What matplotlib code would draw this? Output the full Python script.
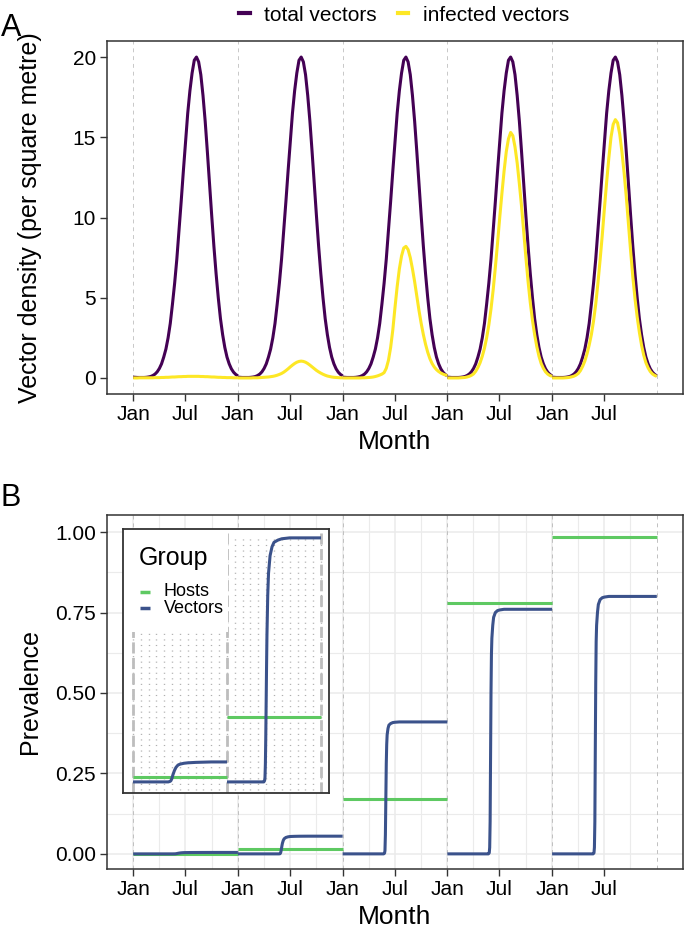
import numpy as np
import matplotlib
matplotlib.use('Agg')
import matplotlib.pyplot as plt
from matplotlib.lines import Line2D
from matplotlib.patches import Rectangle

plt.rcParams['font.family'] = ['Liberation Sans', 'DejaVu Sans']

# ---- data ----
# panel A: vector density per square metre, one value every quarter month
months = np.linspace(0, 12, 49)

total_vectors = [0.05, 0.04, 0.03, 0.03, 0.03, 0.03, 0.04, 0.06, 0.09, 0.15,
                 0.24, 0.38, 0.59, 0.88, 1.30, 1.80, 2.50, 3.40, 4.60, 5.90,
                 7.40, 9.20, 11.0, 12.9, 14.7, 16.5, 17.9, 19.0, 19.8, 20.0,
                 19.7, 18.9, 17.6, 16.0, 14.1, 12.1, 10.1, 8.20, 6.50, 5.00,
                 3.70, 2.70, 1.90, 1.30, 0.88, 0.57, 0.36, 0.22, 0.13]

infected_y1 = [0.00, 0.00, 0.00, 0.01, 0.01, 0.01, 0.01, 0.01, 0.01, 0.01,
               0.02, 0.02, 0.02, 0.03, 0.03, 0.04, 0.04, 0.05, 0.06, 0.06,
               0.07, 0.08, 0.08, 0.09, 0.09, 0.10, 0.10, 0.10, 0.10, 0.10,
               0.10, 0.09, 0.09, 0.08, 0.08, 0.07, 0.06, 0.06, 0.05, 0.04,
               0.04, 0.03, 0.03, 0.02, 0.02, 0.02, 0.01, 0.01, 0.01]

infected_y2 = [0.00, 0.00, 0.00, 0.00, 0.00, 0.00, 0.00, 0.01, 0.01, 0.01,
               0.02, 0.03, 0.04, 0.05, 0.06, 0.08, 0.10, 0.13, 0.17, 0.22,
               0.28, 0.36, 0.46, 0.57, 0.69, 0.80, 0.90, 0.98, 1.03, 1.05,
               1.03, 0.98, 0.90, 0.80, 0.69, 0.58, 0.47, 0.38, 0.30, 0.23,
               0.17, 0.12, 0.09, 0.06, 0.04, 0.03, 0.02, 0.01, 0.01]

infected_y3 = [0.00, 0.00, 0.00, 0.00, 0.00, 0.00, 0.00, 0.00, 0.00, 0.01,
               0.01, 0.02, 0.03, 0.04, 0.06, 0.09, 0.13, 0.18, 0.24, 0.33,
               0.60, 1.10, 1.90, 3.00, 4.40, 5.70, 6.80, 7.60, 8.10, 8.20,
               8.00, 7.50, 6.80, 6.00, 5.10, 4.20, 3.40, 2.70, 2.10, 1.60,
               1.20, 0.90, 0.68, 0.52, 0.40, 0.31, 0.24, 0.19, 0.15]

infected_y4 = [0.00, 0.00, 0.00, 0.00, 0.00, 0.00, 0.01, 0.02, 0.03, 0.06,
               0.10, 0.16, 0.25, 0.42, 0.65, 0.95, 1.35, 1.85, 2.50, 3.30,
               4.30, 5.50, 6.90, 8.40, 10.0, 11.5, 12.9, 14.1, 14.9, 15.3,
               15.1, 14.4, 13.4, 12.1, 10.7, 9.10, 7.50, 6.00, 4.70, 3.60,
               2.70, 1.95, 1.35, 0.90, 0.60, 0.38, 0.24, 0.15, 0.10]

infected_y5 = [0.00, 0.00, 0.00, 0.00, 0.00, 0.00, 0.01, 0.02, 0.04, 0.07,
               0.11, 0.18, 0.28, 0.46, 0.72, 1.05, 1.50, 2.05, 2.70, 3.55,
               4.60, 5.90, 7.35, 8.90, 10.6, 12.2, 13.7, 15.0, 15.8, 16.1,
               15.9, 15.2, 14.1, 12.8, 11.3, 9.60, 7.90, 6.30, 4.95, 3.80,
               2.85, 2.05, 1.42, 0.95, 0.63, 0.40, 0.25, 0.16, 0.10]

infected = [infected_y1, infected_y2, infected_y3, infected_y4, infected_y5]

# panel B: prevalence; vectors sampled more densely around the jump
b_months = [0, 4.5, 4.7, 4.8, 4.85, 4.9, 4.95, 5.0, 5.05, 5.1,
            5.2, 5.3, 5.5, 5.75, 6.0, 6.5, 7.0, 8.0, 10.0, 12.0]

vectors_y1 = [0, 0, 0.0001, 0.0002, 0.0003, 0.0005, 0.0007, 0.0010, 0.0013, 0.0016,
              0.0021, 0.0026, 0.0033, 0.0038, 0.0040, 0.0042, 0.0043, 0.0044, 0.0045, 0.0045]
vectors_y2 = [0, 0, 0, 0.0003, 0.001, 0.004, 0.010, 0.018, 0.026, 0.033,
              0.042, 0.047, 0.051, 0.053, 0.054, 0.0545, 0.0548, 0.055, 0.055, 0.055]
vectors_y3 = [0, 0, 0, 0.002, 0.01, 0.06, 0.17, 0.28, 0.34, 0.37,
              0.39, 0.40, 0.405, 0.408, 0.409, 0.41, 0.41, 0.41, 0.41, 0.41]
vectors_y4 = [0, 0, 0, 0.003, 0.02, 0.10, 0.30, 0.50, 0.62, 0.67,
              0.71, 0.735, 0.75, 0.756, 0.758, 0.76, 0.76, 0.76, 0.76, 0.76]
vectors_y5 = [0, 0, 0, 0.003, 0.02, 0.10, 0.32, 0.53, 0.66, 0.71,
              0.75, 0.775, 0.79, 0.796, 0.798, 0.80, 0.80, 0.80, 0.80, 0.80]
vectors = [vectors_y1, vectors_y2, vectors_y3, vectors_y4, vectors_y5]

hosts = [0.0011, 0.0146, 0.171, 0.78, 0.984]

tick_pos = [0, 0.496, 1, 1.496, 2, 2.496, 3, 3.496, 4, 4.496]
tick_lab = ['Jan', 'Jul'] * 5
minor_pos = [0.247, 0.748, 1.247, 1.748, 2.247, 2.748, 3.247, 3.748, 4.247, 4.748]

c_total, c_inf = '#440154', '#FDE725'
c_host, c_vec = '#5EC962', '#3B528B'
dark = '#333333'

W, H = 685, 941
fig = plt.figure(figsize=(W / 100, H / 100), dpi=100)


def px_axes(l, t, r, b):
    return fig.add_axes([l / W, 1 - b / H, (r - l) / W, (b - t) / H])


def style(ax):
    for s in ax.spines.values():
        s.set_color(dark)
        s.set_linewidth(1.1)
    ax.tick_params(axis='both', which='major', length=5, width=1.0, color=dark,
                   labelsize=15, labelcolor='black', pad=3)
    ax.tick_params(axis='both', which='minor', length=0)
    ax.set_xlim(-0.25, 5.25)
    ax.set_xticks(tick_pos)
    ax.set_xticklabels(tick_lab)
    ax.set_xlabel('Month', fontsize=19, labelpad=4)
    ax.yaxis.set_label_coords(-0.113, 0.5)


# ---- panel A ----
axA = px_axes(107, 41, 683, 394)
style(axA)
for k in range(6):
    axA.axvline(k, color='#c8c8c8', lw=0.7, ls=(0, (4, 4)), zorder=0)
for k in range(5):
    x = k + months / 12
    axA.plot(x, total_vectors, color=c_total, lw=2.2, solid_capstyle='butt')
for k in range(5):
    x = k + months / 12
    axA.plot(x, infected[k], color=c_inf, lw=2.2, solid_capstyle='butt')
axA.set_ylim(-1, 21)
axA.set_yticks([0, 5, 10, 15, 20])
axA.set_ylabel('Vector density (per square metre)', fontsize=18)

handles = [Line2D([], [], color=c_total, lw=3), Line2D([], [], color=c_inf, lw=3)]
fig.legend(handles, ['total vectors', 'infected vectors'], loc='upper center',
           bbox_to_anchor=(0.59, 1.014), ncol=2, frameon=False, fontsize=15,
           handlelength=0.5, handletextpad=0.7, columnspacing=1.0)

fig.text(11 / W, 1 - 28 / H, 'A', fontsize=22, ha='center', va='center')
fig.text(11 / W, 1 - 498 / H, 'B', fontsize=22, ha='center', va='center')

# ---- panel B ----
axB = px_axes(107, 515, 683, 869)
style(axB)
axB.set_ylim(-0.047, 1.053)
axB.set_yticks([0, 0.25, 0.5, 0.75, 1.0])
axB.set_yticklabels(['0.00', '0.25', '0.50', '0.75', '1.00'])
axB.set_yticks([0.125, 0.375, 0.625, 0.875], minor=True)
axB.set_xticks(minor_pos, minor=True)
axB.grid(which='major', color='#EBEBEB', lw=1.1, zorder=0)
axB.grid(which='minor', color='#EBEBEB', lw=0.8, zorder=0)
axB.set_axisbelow(True)
for k in range(6):
    axB.axvline(k, color='#c0c0c0', lw=0.7, ls=(0, (4, 4)), zorder=1)
for k in range(5):
    axB.plot([k, k + 1], [hosts[k], hosts[k]], color=c_host, lw=2.2, solid_capstyle='butt')
for k in range(5):
    x = k + np.array(b_months) / 12
    axB.plot(x, vectors[k], color=c_vec, lw=2.2, solid_capstyle='butt')
axB.set_ylabel('Prevalence', fontsize=18)

# ---- inset: first two years ----
axI = px_axes(123, 529, 329, 793)
axI.set_facecolor('white')
for s in axI.spines.values():
    s.set_color(dark)
    s.set_linewidth(1.3)
axI.set_xticks([])
axI.set_yticks([])
axI.set_xlim(-0.106, 2.085)
axI.set_ylim(-0.0025, 0.057)
grid_x = np.arange(0, 25) / 12
axI.vlines(grid_x, -0.0019, 0.0555, colors='#b0b0b0', lw=1.0,
           linestyles=[(0, (0.8, 3.2))], zorder=0)
for k in range(3):
    axI.axvline(k, color='#bdbdbd', lw=2.0, ls=(0, (4, 1.6)), zorder=1)
for k in range(2):
    axI.plot([k, k + 1], [hosts[k], hosts[k]], color=c_host, lw=2.2, solid_capstyle='butt', zorder=2)
for k in range(2):
    x = k + np.array(b_months) / 12
    axI.plot(x, vectors[k], color=c_vec, lw=2.2, solid_capstyle='butt', zorder=3)

# legend of the inset, drawn by hand on a white box
tr = axI.transAxes
axI.add_patch(Rectangle((0.005, 0.61), 0.505, 0.385, transform=tr,
                        facecolor='white', edgecolor='none', zorder=8))
axI.text(0.075, 0.89, 'Group', transform=tr, fontsize=18, ha='left', va='center', zorder=9)
for yy, col, lab in [(0.762, c_host, 'Hosts'), (0.70, c_vec, 'Vectors')]:
    axI.plot([0.083, 0.131], [yy, yy], transform=tr, color=col, lw=2.5,
             solid_capstyle='butt', zorder=9)
    axI.text(0.199, yy, lab, transform=tr, fontsize=13, ha='left', va='center', zorder=9)

fig.savefig('out.png', dpi=100)
